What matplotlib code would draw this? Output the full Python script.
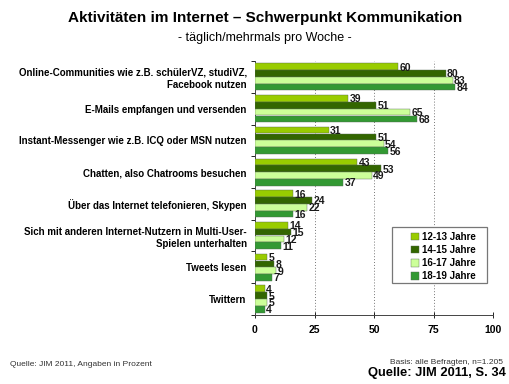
import matplotlib
matplotlib.use("Agg")
import matplotlib.pyplot as plt
from matplotlib.patches import Rectangle
import numpy as np

plt.rcParams['font.family'] = ['Liberation Sans', 'DejaVu Sans']

categories = [
    "Online-Communities wie z.B. schülerVZ, studiVZ,\nFacebook nutzen",
    "E-Mails empfangen und versenden",
    "Instant-Messenger wie z.B. ICQ oder MSN nutzen",
    "Chatten, also Chatrooms besuchen",
    "Über das Internet telefonieren, Skypen",
    "Sich mit anderen Internet-Nutzern in Multi-User-\nSpielen unterhalten",
    "Tweets lesen",
    "Twittern",
]
series_names = ["12-13 Jahre", "14-15 Jahre", "16-17 Jahre", "18-19 Jahre"]
v12_13 = [60, 39, 31, 43, 16, 14, 5, 4]
v14_15 = [80, 51, 51, 53, 24, 15, 8, 5]
v16_17 = [83, 65, 54, 49, 22, 12, 9, 5]
v18_19 = [84, 68, 56, 37, 16, 11, 7, 4]
series = [v12_13, v14_15, v16_17, v18_19]
colors = ["#99CC00", "#336600", "#CCFF99", "#339933"]
xticks = [0, 25, 50, 75, 100]

W, H = 510, 384
fig = plt.figure(figsize=(W / 100, H / 100), dpi=100)
ax = fig.add_axes([0.5, 0.18, 0.467, 0.661])

n = len(categories)
bh = 0.215
for i, (vals, c, name) in enumerate(zip(series, colors, series_names)):
    y = np.arange(n) + (i - 1.5) * bh
    ax.barh(y, vals, height=bh * 0.97, color=c, edgecolor="#556655", linewidth=0.3, label=name, zorder=3)
    for yy, v in zip(y, vals):
        ax.text(v + 0.6, yy + 0.03, str(v), va="center", ha="left", fontsize=7.5, fontweight="bold", color="#1a1a1a", zorder=4)

ax.set_ylim(n - 0.5, -0.5)
ax.set_xlim(0, 100)
ax.set_xticks(xticks)
ax.set_xticklabels([str(t) for t in xticks], fontsize=7.5, fontweight="bold")
ax.set_yticks(np.arange(n))
ax.set_yticklabels(categories, fontsize=7, fontweight="bold", ha="right", linespacing=1.3)
ax.tick_params(axis="y", length=0, pad=6)
ax.set_yticks(np.arange(n + 1) - 0.5, minor=True)
ax.tick_params(axis="y", which="minor", length=3, direction="out", width=0.6)
ax.tick_params(axis="x", length=4, direction="inout", width=0.6, pad=5)
ax.grid(axis="x", linestyle=(0, (1, 2)), color="#777777", linewidth=0.7, zorder=0)
for s in ["top", "right"]:
    ax.spines[s].set_visible(False)
for s in ["left", "bottom"]:
    ax.spines[s].set_linewidth(0.7)
    ax.spines[s].set_color("#444444")

# legend box
ax.add_patch(Rectangle((392 / W, 1 - 283 / H), 95 / W, 56 / H, transform=fig.transFigure,
                       facecolor="white", edgecolor="#777777", linewidth=0.9, zorder=5, clip_on=False))
leg = ax.legend(loc="upper left", bbox_to_anchor=(404 / W, 1 - 225 / H), bbox_transform=fig.transFigure,
                frameon=False, handlelength=0.8, handleheight=0.8, handletextpad=0.35,
                borderpad=0.2, labelspacing=0.33, prop={"weight": "bold", "size": 7})
leg.set_zorder(6)

fig.text(0.52, 0.952, "Aktivitäten im Internet – Schwerpunkt Kommunikation", ha="center", va="center",
         fontsize=11, fontweight="bold")
fig.text(0.52, 0.902, "- täglich/mehrmals pro Woche -", ha="center", va="center", fontsize=9)
fig.text(10 / W, 1 - 364 / H, "Quelle: JIM 2011, Angaben in Prozent", ha="left", va="center", fontsize=6, color="#333333")
fig.text(503 / W, 1 - 362 / H, "Basis: alle Befragten, n=1.205", ha="right", va="center", fontsize=6, color="#333333")
fig.text(506 / W, 1 - 373 / H, "Quelle: JIM 2011, S. 34", ha="right", va="center", fontsize=9.3, fontweight="bold")

fig.savefig("out.png", dpi=100)
